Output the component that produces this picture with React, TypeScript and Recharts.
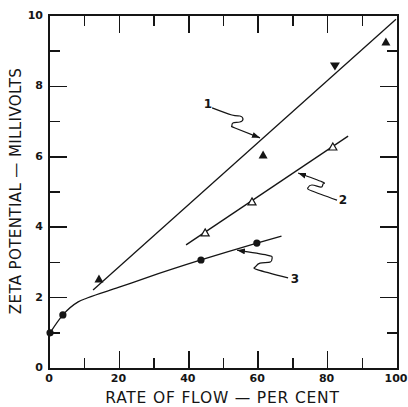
import { ComposedChart, Line, Scatter, XAxis, YAxis } from "recharts";

const xTicks = [0, 10, 20, 30, 40, 50, 60, 70, 80, 90, 100];
const yTicks = [0, 1, 2, 3, 4, 5, 6, 7, 8, 9, 10];
const X_MAX = 100;
const Y_MAX = 10;

// curve 1 - solid triangles
const curve1Line = [
  { x: 12.7, y: 2.19 },
  { x: 100, y: 9.88 },
];
const curve1Points = [
  { x: 14.4, y: 2.5 },
  { x: 61.7, y: 6.02 },
  { x: 97.1, y: 9.23 },
];
const curve1Inverted = [{ x: 82.4, y: 8.55 }];

// curve 2 - open triangles
const curve2Line = [
  { x: 39.5, y: 3.47 },
  { x: 86.2, y: 6.56 },
];
const curve2Points = [
  { x: 45, y: 3.81 },
  { x: 58.5, y: 4.69 },
  { x: 81.8, y: 6.25 },
];

// curve 3 - solid circles
const curve3Line = [
  { x: 0.3, y: 0.97 },
  { x: 4, y: 1.48 },
  { x: 8.4, y: 1.85 },
  { x: 11, y: 1.96 },
  { x: 20, y: 2.26 },
  { x: 28.2, y: 2.54 },
  { x: 43.8, y: 3.04 },
  { x: 59.9, y: 3.52 },
  { x: 67, y: 3.72 },
];
const curve3Points = [
  { x: 0.3, y: 0.97 },
  { x: 4, y: 1.48 },
  { x: 43.8, y: 3.04 },
  { x: 59.9, y: 3.52 },
];

// leader arrows, tail -> tip
const arrow1 = [
  { x: 47, y: 7.36 },
  { x: 52.7, y: 7.16 },
  { x: 55, y: 7.13 },
  { x: 55.9, y: 7.05 },
  { x: 55, y: 6.96 },
  { x: 53, y: 6.93 },
  { x: 52.7, y: 6.85 },
  { x: 53.6, y: 6.79 },
  { x: 60.8, y: 6.51 },
];
const arrow2 = [
  { x: 83, y: 4.74 },
  { x: 75.8, y: 5.0 },
  { x: 74.6, y: 5.09 },
  { x: 75.8, y: 5.17 },
  { x: 78.4, y: 5.11 },
  { x: 79, y: 5.2 },
  { x: 78.7, y: 5.26 },
  { x: 71.8, y: 5.51 },
];
const arrow3 = [
  { x: 68.9, y: 2.53 },
  { x: 60.2, y: 2.76 },
  { x: 59.4, y: 2.84 },
  { x: 60.8, y: 2.95 },
  { x: 63.7, y: 2.98 },
  { x: 64.3, y: 3.1 },
  { x: 62.8, y: 3.18 },
  { x: 54.2, y: 3.32 },
];
const curveLabels = [
  { x: 45.8, y: 7.47, text: "1" },
  { x: 84.7, y: 4.74, text: "2" },
  { x: 70.9, y: 2.5, text: "3" },
];

const INK = "#151515";
const FONT = "'DejaVu Sans', sans-serif";
const MAJOR = 17;
const MINOR = 10;
const MARGIN = { top: 15, right: 12, bottom: 0, left: 0 };
const W = 408;
const H = 407;
const Y_AXIS_W = 49;
const X_AXIS_H = 40;

// plot box implied by the chart size, margins and axis sizes
const BOX = {
  x: MARGIN.left + Y_AXIS_W,
  y: MARGIN.top,
  w: W - MARGIN.left - MARGIN.right - Y_AXIS_W,
  h: H - MARGIN.top - MARGIN.bottom - X_AXIS_H,
};

// frame (css border) with inward ticks on all four sides
function PlotFrame() {
  const px = (v: number) => (v / X_MAX) * BOX.w;
  const py = (v: number) => BOX.h - (v / Y_MAX) * BOX.h;
  const marks: { left: number; top: number; width: number; height: number }[] = [];
  const t = 1.5;
  xTicks.slice(1, -1).forEach((v) => {
    const len = v % 20 === 0 ? MAJOR : MINOR;
    marks.push({ left: px(v) - t / 2, top: BOX.h - len, width: t, height: len });
    marks.push({ left: px(v) - t / 2, top: 0, width: t, height: len });
  });
  yTicks.slice(1, -1).forEach((v) => {
    const len = v % 2 === 0 ? MAJOR : MINOR;
    marks.push({ left: 0, top: py(v) - t / 2, width: len, height: t });
    marks.push({ left: BOX.w - len, top: py(v) - t / 2, width: len, height: t });
  });
  return (
    <div
      style={{
        position: "absolute",
        left: BOX.x - 1,
        top: BOX.y - 1,
        width: BOX.w,
        height: BOX.h,
        border: `2px solid ${INK}`,
        pointerEvents: "none",
        boxSizing: "content-box",
      }}
    >
      {marks.map((m, i) => (
        <div
          key={i}
          style={{
            position: "absolute",
            left: m.left,
            top: m.top,
            width: m.width,
            height: m.height,
            background: INK,
          }}
        />
      ))}
    </div>
  );
}

function BottomTick({ x, y, payload }: any) {
  const v = payload.value;
  if (v % 20 !== 0) return <g />;
  return (
    <text x={x} y={y + 15} textAnchor="middle" fontSize={11} fontWeight="bold" fontFamily={FONT} fill={INK}>
      {v}
    </text>
  );
}

function LeftTick({ x, y, payload }: any) {
  const v = payload.value;
  if (v % 2 !== 0) return <g />;
  return (
    <text x={x - 6} y={y + 4} textAnchor="end" fontSize={11} fontWeight="bold" fontFamily={FONT} fill={INK}>
      {v}
    </text>
  );
}

function YLabel({ viewBox }: any) {
  const cx = viewBox.x + 16;
  const cy = viewBox.y + viewBox.height / 2;
  return (
    <text
      x={cx}
      y={cy}
      transform={`rotate(-90 ${cx} ${cy})`}
      textAnchor="middle"
      dominantBaseline="central"
      fontSize={15}
      letterSpacing={0.4}
      fontFamily={FONT}
      fill={INK}
    >
      ZETA POTENTIAL — MILLIVOLTS
    </text>
  );
}

const solidTriangle = ({ cx, cy }: any) => (
  <path d={`M${cx},${cy - 4.5} L${cx + 4.5},${cy + 3.5} L${cx - 4.5},${cy + 3.5} Z`} fill={INK} />
);
const invertedTriangle = ({ cx, cy }: any) => (
  <path d={`M${cx - 5},${cy - 3.5} L${cx + 5},${cy - 3.5} L${cx},${cy + 4.5} Z`} fill={INK} />
);
const openTriangle = ({ cx, cy }: any) => (
  <path
    d={`M${cx},${cy - 4} L${cx + 4},${cy + 3} L${cx - 4},${cy + 3} Z`}
    fill="#fff"
    stroke={INK}
    strokeWidth={1.2}
  />
);
const solidCircle = ({ cx, cy }: any) => <circle cx={cx} cy={cy} r={3.6} fill={INK} />;
const numberLabel = ({ cx, cy, payload }: any) => (
  <text x={cx} y={cy + 4} textAnchor="middle" fontSize={12} fontWeight="bold" fontFamily={FONT} fill={INK}>
    {payload.text}
  </text>
);

export default function App() {
  const thin = { stroke: INK, strokeWidth: 1.3, dot: false, isAnimationActive: false } as const;
  const leader = { ...thin, strokeWidth: 1.2, markerEnd: "url(#leader-head)" } as const;
  return (
    <div style={{ position: "absolute", left: 0, top: 0, width: W, height: H, background: "#fff" }}>
      <svg width={0} height={0} style={{ position: "absolute" }}>
        <defs>
          <marker
            id="leader-head"
            markerUnits="userSpaceOnUse"
            markerWidth={8}
            markerHeight={6}
            refX={8}
            refY={3}
            orient="auto"
          >
            <path d="M0,0 L8,3 L0,6 Z" fill={INK} />
          </marker>
        </defs>
      </svg>
      <ComposedChart width={W} height={H} margin={MARGIN}>
        <XAxis
          dataKey="x"
          type="number"
          domain={[0, X_MAX]}
          ticks={xTicks}
          interval={0}
          height={X_AXIS_H}
          tickSize={0}
          tickMargin={0}
          tickLine={false}
          tick={BottomTick}
          axisLine={false}
          label={{
            value: "RATE OF FLOW — PER CENT",
            position: "insideBottom",
            offset: 4,
            fontSize: 15.5,
            letterSpacing: 0.8,
            fontFamily: FONT,
            fill: INK,
          }}
        />
        <YAxis
          dataKey="y"
          type="number"
          domain={[0, Y_MAX]}
          ticks={yTicks}
          interval={0}
          width={Y_AXIS_W}
          tickSize={0}
          tickMargin={0}
          tickLine={false}
          tick={LeftTick}
          axisLine={false}
          label={<YLabel />}
        />

        <Line data={curve1Line} dataKey="y" type="linear" {...thin} />
        <Line data={curve2Line} dataKey="y" type="linear" {...thin} />
        <Line data={curve3Line} dataKey="y" type="monotone" {...thin} />

        <Line data={arrow1} dataKey="y" type="natural" {...leader} />
        <Line data={arrow2} dataKey="y" type="natural" {...leader} />
        <Line data={arrow3} dataKey="y" type="natural" {...leader} />

        <Scatter data={curve1Points} dataKey="y" shape={solidTriangle} isAnimationActive={false} />
        <Scatter data={curve1Inverted} dataKey="y" shape={invertedTriangle} isAnimationActive={false} />
        <Scatter data={curve2Points} dataKey="y" shape={openTriangle} isAnimationActive={false} />
        <Scatter data={curve3Points} dataKey="y" shape={solidCircle} isAnimationActive={false} />
        <Scatter data={curveLabels} dataKey="y" shape={numberLabel} isAnimationActive={false} />
      </ComposedChart>
      <PlotFrame />
    </div>
  );
}
